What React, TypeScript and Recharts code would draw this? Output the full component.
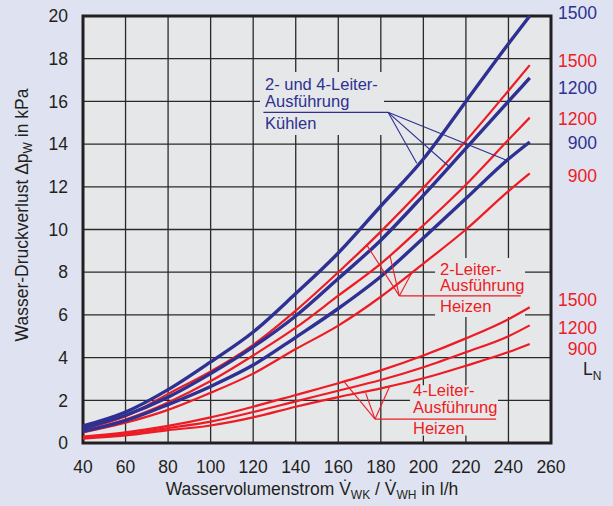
import { LineChart, Line, XAxis, YAxis, CartesianGrid, ReferenceArea, ReferenceLine } from 'recharts';

// Wasservolumenstrom in l/h
const flow = [40, 60, 80, 100, 120, 140, 160, 180, 200, 220, 240, 250];

// 2- und 4-Leiter-Ausführung, Kühlen (blau)
const cool1500 = [0.8, 1.45, 2.5, 3.8, 5.2, 7.0, 8.9, 11.1, 13.3, 16.0, 18.7, 20.0];
const cool1200 = [0.7, 1.3, 2.15, 3.25, 4.5, 5.95, 7.7, 9.5, 11.6, 13.8, 16.0, 17.1];
const cool900 = [0.55, 1.05, 1.8, 2.65, 3.65, 4.95, 6.3, 7.8, 9.6, 11.45, 13.3, 14.1];

// 2-Leiter-Ausführung, Heizen (rot)
const heat2L1500 = [0.65, 1.25, 2.3, 3.35, 4.6, 6.2, 8.0, 9.9, 11.95, 14.15, 16.5, 17.7];
const heat2L1200 = [0.55, 1.1, 1.9, 2.9, 4.1, 5.4, 6.9, 8.4, 10.2, 12.1, 14.2, 15.24];
const heat2L900 = [0.5, 0.95, 1.55, 2.35, 3.25, 4.4, 5.5, 6.85, 8.4, 10.0, 11.8, 12.63];

// 4-Leiter-Ausführung, Heizen (rot)
const heat4L1500 = [0.3, 0.5, 0.8, 1.2, 1.7, 2.25, 2.8, 3.4, 4.1, 4.9, 5.8, 6.36];
const heat4L1200 = [0.25, 0.42, 0.7, 1.0, 1.45, 1.95, 2.45, 2.95, 3.55, 4.25, 5.0, 5.51];
const heat4L900 = [0.2, 0.35, 0.6, 0.82, 1.2, 1.7, 2.15, 2.56, 3.03, 3.62, 4.26, 4.64];

const xTicks = [40, 60, 80, 100, 120, 140, 160, 180, 200, 220, 240, 260];
const yTicks = [0, 2, 4, 6, 8, 10, 12, 14, 16, 18, 20];

const data = flow.map((x, i) => ({
  x,
  c1500: cool1500[i],
  c1200: cool1200[i],
  c900: cool900[i],
  h2_1500: heat2L1500[i],
  h2_1200: heat2L1200[i],
  h2_900: heat2L900[i],
  h4_1500: heat4L1500[i],
  h4_1200: heat4L1200[i],
  h4_900: heat4L900[i],
}));

const BLUE = '#2e3192';
const RED = '#ed1c24';
const INK = '#231f20';
const PAGE_BG = '#dfe3f1';
const PLOT_BG = '#e6e7e9';
const FONT = '"Liberation Sans", Arial, Helvetica, sans-serif';

export default function App() {
  const tickStyle = { fontSize: 17.5, fill: INK, fontFamily: FONT };

  return (
    <div style={{ position: 'absolute', left: 0, top: 0, width: 613, height: 506, background: PAGE_BG, fontFamily: FONT }}>
      <LineChart width={613} height={506} data={data} margin={{ top: 16, right: 62, bottom: 0, left: 0 }}>
        <CartesianGrid fill={PLOT_BG} stroke="#2a2a2a" strokeWidth={1.3} />
        <XAxis
          dataKey="x"
          type="number"
          domain={[40, 260]}
          ticks={xTicks}
          height={63}
          axisLine={false}
          tickLine={false}
          tickSize={0}
          tickMargin={18}
          tick={tickStyle}
          interval={0}
        />
        <YAxis
          type="number"
          domain={[0, 20]}
          ticks={yTicks}
          width={83}
          axisLine={false}
          tickLine={false}
          tickSize={0}
          tickMargin={15}
          tick={tickStyle}
          interval={0}
        />

        {/* Hintergrund hinter den Beschriftungen */}
        <ReferenceArea x1={123.2} x2={181.5} y1={14.43} y2={17.38} fill={PLOT_BG} fillOpacity={1} stroke="none" />
        <ReferenceArea x1={205.5} x2={247.8} y1={5.9} y2={8.67} fill={PLOT_BG} fillOpacity={1} stroke="none" />
        <ReferenceArea x1={193.7} x2={235.1} y1={0.35} y2={2.7} fill={PLOT_BG} fillOpacity={1} stroke="none" />

        <Line type="monotone" dataKey="h4_1500" stroke={RED} strokeWidth={2.2} dot={false} isAnimationActive={false} />
        <Line type="monotone" dataKey="h4_1200" stroke={RED} strokeWidth={2.2} dot={false} isAnimationActive={false} />
        <Line type="monotone" dataKey="h4_900" stroke={RED} strokeWidth={2.2} dot={false} isAnimationActive={false} />
        <Line type="monotone" dataKey="h2_1500" stroke={RED} strokeWidth={2.2} dot={false} isAnimationActive={false} />
        <Line type="monotone" dataKey="h2_1200" stroke={RED} strokeWidth={2.2} dot={false} isAnimationActive={false} />
        <Line type="monotone" dataKey="h2_900" stroke={RED} strokeWidth={2.2} dot={false} isAnimationActive={false} />
        <Line type="monotone" dataKey="c1500" stroke={BLUE} strokeWidth={3.4} dot={false} isAnimationActive={false} />
        <Line type="monotone" dataKey="c1200" stroke={BLUE} strokeWidth={3.4} dot={false} isAnimationActive={false} />
        <Line type="monotone" dataKey="c900" stroke={BLUE} strokeWidth={3.4} dot={false} isAnimationActive={false} />

        {/* Kühlen: Unterstrich und Hinweislinien */}
        <ReferenceLine segment={[{ x: 124.8, y: 15.49 }, { x: 183.4, y: 15.49 }]} stroke={BLUE} strokeWidth={1.3} ifOverflow="visible" />
        <ReferenceLine segment={[{ x: 183.4, y: 15.49 }, { x: 196.9, y: 13.1 }]} stroke={BLUE} strokeWidth={1.1} ifOverflow="visible" />
        <ReferenceLine segment={[{ x: 183.4, y: 15.49 }, { x: 212.2, y: 12.94 }]} stroke={BLUE} strokeWidth={1.1} ifOverflow="visible" />
        <ReferenceLine segment={[{ x: 183.4, y: 15.49 }, { x: 240.0, y: 13.21 }]} stroke={BLUE} strokeWidth={1.1} ifOverflow="visible" />

        {/* 2-Leiter Heizen */}
        <ReferenceLine segment={[{ x: 188.7, y: 6.89 }, { x: 245.8, y: 6.89 }]} stroke={RED} strokeWidth={1.3} ifOverflow="visible" />
        <ReferenceLine segment={[{ x: 188.7, y: 6.89 }, { x: 173.4, y: 9.27 }]} stroke={RED} strokeWidth={1.1} ifOverflow="visible" />
        <ReferenceLine segment={[{ x: 188.7, y: 6.89 }, { x: 184.3, y: 8.76 }]} stroke={RED} strokeWidth={1.1} ifOverflow="visible" />
        <ReferenceLine segment={[{ x: 188.7, y: 6.89 }, { x: 195.0, y: 8.06 }]} stroke={RED} strokeWidth={1.1} ifOverflow="visible" />

        {/* 4-Leiter Heizen */}
        <ReferenceLine segment={[{ x: 177.3, y: 1.12 }, { x: 234.2, y: 1.12 }]} stroke={RED} strokeWidth={1.3} ifOverflow="visible" />
        <ReferenceLine segment={[{ x: 177.3, y: 1.12 }, { x: 162.7, y: 2.87 }]} stroke={RED} strokeWidth={1.1} ifOverflow="visible" />
        <ReferenceLine segment={[{ x: 177.3, y: 1.12 }, { x: 172.9, y: 2.33 }]} stroke={RED} strokeWidth={1.1} ifOverflow="visible" />
        <ReferenceLine segment={[{ x: 177.3, y: 1.12 }, { x: 184.0, y: 2.61 }]} stroke={RED} strokeWidth={1.1} ifOverflow="visible" />

        <ReferenceArea x1={40} x2={260} y1={0} y2={20} fill="none" stroke={INK} strokeWidth={3} ifOverflow="visible" />
      </LineChart>

      <svg width={613} height={506} style={{ position: 'absolute', left: 0, top: 0, pointerEvents: 'none' }} fontFamily={FONT}>
        {/* Achsentitel */}
        <text x={312} y={495} textAnchor="middle" fontSize={17.5} fill={INK}>
          Wasservolumenstrom V{'\u0307'}<tspan fontSize={12} dy={4}>WK</tspan>
          <tspan dy={-4}> / V{'\u0307'}</tspan><tspan fontSize={12} dy={4}>WH</tspan>
          <tspan dy={-4}> in l/h</tspan>
        </text>
        <text x={28} y={215} textAnchor="middle" fontSize={17.5} fill={INK} transform="rotate(-90 28 215)">
          Wasser-Druckverlust Δp<tspan fontSize={12} dy={4}>W</tspan><tspan dy={-4}> in kPa</tspan>
        </text>

        {/* Beschriftungen im Diagramm */}
        <g fontSize={16.5} fill={BLUE}>
          <text x={265} y={90}>2- und 4-Leiter-</text>
          <text x={265} y={106.5}>Ausführung</text>
          <text x={265} y={128.5}>Kühlen</text>
        </g>
        <g fontSize={16.5} fill={RED}>
          <text x={440} y={275}>2-Leiter-</text>
          <text x={440} y={290.5}>Ausführung</text>
          <text x={440} y={311.5}>Heizen</text>
          <text x={413} y={396}>4-Leiter-</text>
          <text x={413} y={413}>Ausführung</text>
          <text x={413} y={434}>Heizen</text>
        </g>

        {/* Nennlängen rechts */}
        <g fontSize={17.5} textAnchor="end">
          <text x={597} y={18.5} fill={BLUE}>1500</text>
          <text x={597} y={67} fill={RED}>1500</text>
          <text x={597} y={94} fill={BLUE}>1200</text>
          <text x={597} y={124.5} fill={RED}>1200</text>
          <text x={597} y={148.5} fill={BLUE}>900</text>
          <text x={597} y={182} fill={RED}>900</text>
          <text x={597} y={306} fill={RED}>1500</text>
          <text x={597} y={333.5} fill={RED}>1200</text>
          <text x={597} y={354.5} fill={RED}>900</text>
        </g>
        <text x={583} y={375} fontSize={17.5} fill={INK}>
          L<tspan fontSize={12} dy={5}>N</tspan>
        </text>
      </svg>
    </div>
  );
}
